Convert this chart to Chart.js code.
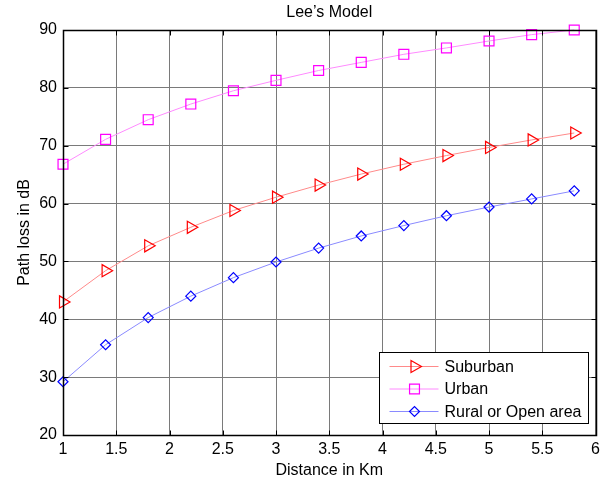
<!DOCTYPE html>
<html>
<head>
<meta charset="utf-8">
<script src="https://cdn.jsdelivr.net/npm/chart.js@4.4.1/dist/chart.umd.min.js"></script>
<style>
  html, body { margin: 0; padding: 0; background: #fff; }
</style>
</head>
<body>
<canvas id="chart" width="605" height="480"></canvas>
<script>
// distance in km and path loss values (dB)
const distance = [1, 1.4, 1.8, 2.2, 2.6, 3.0, 3.4, 3.8, 4.2, 4.6, 5.0, 5.4, 5.8];
const suburban = [43.0, 48.4, 52.7, 55.9, 58.8, 61.1, 63.2, 65.1, 66.8, 68.3, 69.7, 71.0, 72.2];
const urban    = [66.8, 71.1, 74.5, 77.2, 79.5, 81.3, 83.0, 84.4, 85.8, 86.9, 88.1, 89.2, 90.0];
const rural    = [29.2, 35.6, 40.3, 44.0, 47.2, 49.9, 52.3, 54.4, 56.2, 57.9, 59.4, 60.8, 62.2];
const seriesNames = ['Suburban', 'Urban', 'Rural or Open area'];
const chartTitle = 'Lee\u2019s Model';

const font = 'Liberation Sans, Arial, sans-serif';
const fsize = 16;

function toPoints(ys) {
  return distance.map((d, i) => ({ x: d, y: ys[i] }));
}

function makeSet(label, ys, line, mark, style, radius, rotation) {
  return {
    label: label,
    data: toPoints(ys),
    borderColor: line,
    borderWidth: 1,
    pointStyle: style,
    pointRadius: radius,
    pointHoverRadius: radius,
    pointRotation: rotation,
    pointBorderColor: mark,
    pointBackgroundColor: 'rgba(0,0,0,0)',
    pointBorderWidth: 1.2,
    tension: 0,
    clip: false
  };
}

// box, inner ticks, title and legend drawn like the matlab figure
const matlabFrame = {
  id: 'matlabFrame',
  afterDatasetsDraw(chart) {
    const ctx = chart.ctx;
    const a = chart.chartArea;
    const xs = chart.scales.x;
    const ys = chart.scales.y;
    const L = Math.round(a.left) + 0.5, R = Math.round(a.right) + 0.5;
    const T = Math.round(a.top) + 0.5, B = Math.round(a.bottom) + 0.5;
    ctx.save();
    ctx.strokeStyle = '#000';
    ctx.lineWidth = 1;
    ctx.beginPath();
    xs.ticks.forEach(t => {
      const px = Math.round(xs.getPixelForValue(t.value)) + 0.5;
      ctx.moveTo(px, B); ctx.lineTo(px, B - 5);
      ctx.moveTo(px, T); ctx.lineTo(px, T + 5);
    });
    ys.ticks.forEach(t => {
      const py = Math.round(ys.getPixelForValue(t.value)) + 0.5;
      ctx.moveTo(L, py); ctx.lineTo(L + 5, py);
      ctx.moveTo(R, py); ctx.lineTo(R - 5, py);
    });
    ctx.stroke();
    ctx.lineWidth = 1.5;
    ctx.strokeRect(L, T, R - L, B - T);

    // title
    ctx.fillStyle = '#000';
    ctx.font = fsize + 'px ' + font;
    ctx.textAlign = 'center';
    ctx.textBaseline = 'middle';
    ctx.fillText(chartTitle, (a.left + a.right) / 2, 13);

    // legend
    const bw = 209, bh = 71;
    const bx = Math.round(a.right - 8 - bw) + 0.5;
    const by = Math.round(a.bottom - 12 - bh) + 0.5;
    ctx.fillStyle = '#fff';
    ctx.fillRect(bx, by, bw, bh);
    ctx.lineWidth = 1;
    ctx.strokeStyle = '#000';
    ctx.strokeRect(bx, by, bw, bh);
    chart.data.datasets.forEach((ds, i) => {
      const cy = by + 14 + i * 22.5;
      ctx.strokeStyle = ds.borderColor;
      ctx.lineWidth = 1;
      ctx.beginPath();
      ctx.moveTo(bx + 10, cy);
      ctx.lineTo(bx + 59, cy);
      ctx.stroke();
      ctx.strokeStyle = ds.pointBorderColor;
      ctx.fillStyle = 'rgba(0,0,0,0)';
      ctx.lineWidth = ds.pointBorderWidth;
      Chart.helpers.drawPoint(ctx, {
        pointStyle: ds.pointStyle,
        radius: ds.pointRadius,
        rotation: ds.pointRotation,
        borderWidth: ds.pointBorderWidth
      }, bx + 35, cy);
      ctx.fillStyle = '#000';
      ctx.font = fsize + 'px ' + font;
      ctx.textAlign = 'left';
      ctx.fillText(ds.label, bx + 65, cy + 1);
    });
    ctx.restore();
  }
};

new Chart(document.getElementById('chart'), {
  type: 'line',
  data: {
    datasets: [
      makeSet(seriesNames[0], suburban, '#ff8a8a', '#ff0000', 'triangle', 7, 90),
      makeSet(seriesNames[1], urban, '#ff8aff', '#ff00ff', 'rect', 7, 0),
      makeSet(seriesNames[2], rural, '#8a8aff', '#0000ff', 'rectRot', 5, 0)
    ]
  },
  options: {
    responsive: false,
    animation: false,
    events: [],
    layout: { padding: { top: 30, right: 9, left: 0, bottom: 0 } },
    plugins: {
      legend: { display: false },
      title: { display: false },
      tooltip: { enabled: false }
    },
    scales: {
      x: {
        type: 'linear',
        min: 1,
        max: 6,
        ticks: {
          stepSize: 0.5,
          color: '#000',
          padding: 5,
          font: { family: font, size: fsize },
          callback: v => String(v)
        },
        grid: { color: '#7a7a7a', drawTicks: false },
        border: { display: false },
        title: {
          display: true,
          text: 'Distance in Km',
          color: '#000',
          font: { family: font, size: fsize },
          padding: { top: 0, bottom: 0 }
        },
        afterFit(s) { s.height = 45; }
      },
      y: {
        min: 20,
        max: 90,
        ticks: {
          stepSize: 10,
          color: '#000',
          padding: 6,
          font: { family: font, size: fsize }
        },
        grid: { color: '#7a7a7a', drawTicks: false },
        border: { display: false },
        title: {
          display: true,
          text: 'Path loss in dB',
          color: '#000',
          font: { family: font, size: fsize },
          padding: { top: 15, bottom: 0 }
        },
        afterFit(s) { s.width = 63; }
      }
    }
  },
  plugins: [matlabFrame]
});
</script>
</body>
</html>
